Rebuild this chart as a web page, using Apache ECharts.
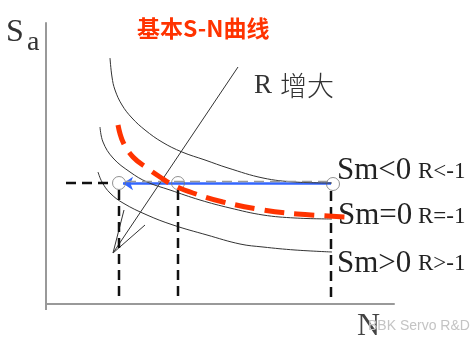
<!DOCTYPE html>
<html><head><meta charset="utf-8">
<script src="https://cdn.jsdelivr.net/npm/echarts@6/dist/echarts.min.js"></script>
<style>html,body{margin:0;padding:0;background:#fff}#c{width:476px;height:347px}</style>
</head><body><div id="c"></div>
<script>
// Data (in picture units: x = N position, y = stress position, top-down)
const curveSmNeg = [[110,58],[112,77],[115,90],[122,105],[132,118],[145,130],[162,142],[182,152],[205,160],[228,168],[263,178],[295,182],[332,183]];
const curveSmZero = [[100,127],[103,142],[113,158],[130,172],[147,182],[170,190],[200,200],[230,208],[263,215],[295,218],[332,219]];
const curveSmPos = [[98,172],[102,182],[110,193],[123,203],[147,215],[173,225],[207,235],[240,244],[263,247],[295,250],[332,252]];
const basicSN = [[118,125],[123,142],[133,157],[147,168],[160,177],[173,185],[193,193],[223,202],[263,210],[297,214],[347,217]];
const rLine = [[238,67],[113,253]];
const rBarb1 = [[113,253],[124,210]];
const rBarb2 = [[113,253],[145,225]];
const dashH = [[66,183],[112,183]];
const dashHBehind = [[126,181.5],[331,181.5]];
const dashV1 = [[119,190],[119,297]];
const dashV2 = [[178,190],[178,297]];
const dashV3 = [[331,191],[331,300]];
const circles = [[119,183],[178,183],[333,184]];
const arrow = [[331,183.5],[123,183.5]];
const yAxisTail = [[46,304],[46,310]];
const labelsRight = ['Sm<0','Sm=0','Sm>0'];
const labelsR = ['R<-1','R=-1','R>-1'];

const chart = echarts.init(document.getElementById('c'));
const thin = (d) => ({type:'line', data:d, smooth:0.4, symbol:'none', lineStyle:{color:'#333', width:1}, silent:true, clip:false});
const seg = (d, color, width, type) => ({type:'line', data:d, symbol:'none', lineStyle:{color, width, type: type || 'solid'}, silent:true, clip:false});
const serif = '"Liberation Serif", "Noto Sans CJK SC", serif';
const txt = (text, x, y, size, color, family, weight) => ({type:'text', x, y, style:{text, fill:color, font:(weight||'normal')+' '+size+'px '+family, verticalAlign:'middle', align:'left'}});

chart.setOption({
  animation:false,
  backgroundColor:'#fff',
  grid:{left:46, right:82, top:23, bottom:43},
  xAxis:{type:'value', min:46, max:394, axisLine:{show:true, onZero:false, lineStyle:{color:'#999', width:2}}, axisTick:{show:false}, axisLabel:{show:false}, splitLine:{show:false}},
  yAxis:{type:'value', min:23, max:304, inverse:true, axisLine:{show:true, onZero:false, lineStyle:{color:'#999', width:2}}, axisTick:{show:false}, axisLabel:{show:false}, splitLine:{show:false}},
  series:[
    seg(yAxisTail, '#999', 2),
    thin(curveSmNeg), thin(curveSmZero), thin(curveSmPos),
    seg(rLine, '#333', 1), seg(rBarb1, '#333', 1), seg(rBarb2, '#333', 1),
    seg(dashH, '#111', 2.5, [10,6]),
    seg(dashHBehind, '#999', 1.5, [10,6]),
    seg(dashV1, '#111', 2.5, [10,6]), seg(dashV2, '#111', 2.5, [10,6]), seg(dashV3, '#111', 2.5, [10,6]),
    {type:'line', data:basicSN, smooth:0.4, symbol:'none', lineStyle:{color:'#ff3300', width:5, type:[20,10]}, silent:true, clip:false},
    {type:'lines', coordinateSystem:'cartesian2d', data:[{coords:arrow}], symbol:['none','arrow'], symbolSize:10, lineStyle:{color:'#3366ff', width:2.5, opacity:1}, silent:true},
    {type:'scatter', data:circles, symbol:'circle', symbolSize:13, itemStyle:{color:'rgba(0,0,0,0)', borderColor:'#777', borderWidth:1}, silent:true}
  ],
  graphic:[
    txt('S', 6, 33, 32, '#333', serif),
    txt('a', 27, 43, 28, '#333', serif),
    txt('基本S-N曲线', 137, 28, 23, '#ff3300', '"Noto Sans CJK SC", sans-serif', 'bold'),
    txt('R', 254, 86, 27, '#333', serif),
    txt('增大', 280, 86, 27, '#333', '"Noto Sans CJK SC", sans-serif', '300'),
    txt(labelsRight[0], 337, 171, 31, '#222', serif),
    txt(labelsR[0], 418, 172, 23, '#222', serif),
    txt(labelsRight[1], 338, 216, 31, '#222', serif),
    txt(labelsR[1], 418, 217, 23, '#222', serif),
    txt(labelsRight[2], 337, 264, 31, '#222', serif),
    txt(labelsR[2], 418, 264, 23, '#222', serif),
    txt('N', 357, 327, 32, '#444', serif),
    txt('BBK Servo R&D', 368, 326, 14, '#c4c4c4', '"Liberation Sans", sans-serif')
  ]
});
</script></body></html>
